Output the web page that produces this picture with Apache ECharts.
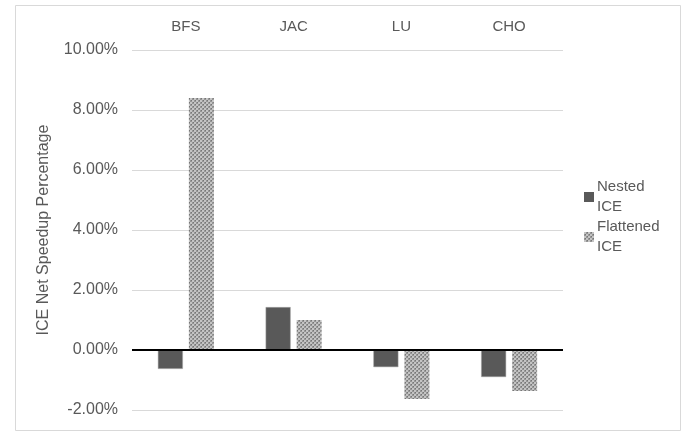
<!DOCTYPE html>
<html><head><meta charset="utf-8">
<script src="https://cdn.jsdelivr.net/npm/echarts@6/dist/echarts.min.js"></script>
<style>html,body{margin:0;padding:0;background:#fff}#c{width:686px;height:433px}</style>
</head><body><div id="c"></div>
<script>
const categories = ['BFS', 'JAC', 'LU', 'CHO'];
const nestedICE = [-0.63, 1.43, -0.57, -0.9];
const flattenedICE = [8.4, 1.0, -1.63, -1.37];
const seriesNames = ['Nested ICE', 'Flattened ICE'];
const yTicks = { min: -2, max: 10, interval: 2 };
const yTitle = 'ICE Net Speedup Percentage';

const pc = document.createElement('canvas');
pc.width = 4; pc.height = 4;
const g = pc.getContext('2d');
g.fillStyle = '#959595'; g.fillRect(0, 0, 4, 4);
g.fillStyle = '#c4c4c4'; g.fillRect(0, 0, 2, 2); g.fillRect(2, 2, 2, 2);
g.fillStyle = '#767676'; g.fillRect(3, 0, 1, 1); g.fillRect(1, 2, 1, 1);

const chart = echarts.init(document.getElementById('c'));
const txt = '#595959';
chart.setOption({
  animation: false,
  backgroundColor: '#fff',
  graphic: [{
    type: 'rect', shape: { x: 15.5, y: 5.5, width: 665, height: 425 },
    style: { fill: 'none', stroke: '#d9d9d9', lineWidth: 1 }, silent: true, z: -1
  }],
  grid: { left: 132, right: 123, top: 50, bottom: 23 },
  legend: {
    orient: 'vertical', left: 579, top: 162,
    itemWidth: 10, itemHeight: 10, itemGap: -20,
    icon: 'rect',
    itemStyle: { borderWidth: 0 },
    data: seriesNames,
    formatter: function (n) { return n.replace(' ', '\n'); },
    textStyle: { color: txt, fontSize: 15, fontFamily: 'Liberation Sans', lineHeight: 20, padding: [20, 0, 0, -2] }
  },
  xAxis: {
    type: 'category', data: categories, position: 'top',
    axisLine: { show: false }, axisTick: { show: false },
    axisLabel: { color: txt, fontSize: 15, fontFamily: 'Liberation Sans', margin: 16 }
  },
  yAxis: {
    type: 'value', min: yTicks.min, max: yTicks.max, interval: yTicks.interval,
    name: yTitle, nameLocation: 'middle', nameGap: 80,
    nameTextStyle: { color: txt, fontSize: 16, fontFamily: 'Liberation Sans' },
    axisLine: { show: false }, axisTick: { show: false },
    axisLabel: { color: txt, fontSize: 16, fontFamily: 'Liberation Sans', margin: 14,
      formatter: function (v) { return v.toFixed(2) + '%'; } },
    splitLine: { lineStyle: { color: '#d9d9d9', width: 1 } }
  },
  series: [
    {
      name: seriesNames[0], type: 'bar', data: nestedICE,
      barWidth: 25, barGap: '24%',
      itemStyle: { color: '#595959', borderColor: '#a6a6a6', borderWidth: 0.5 },
      markLine: {
        silent: true, symbol: 'none', label: { show: false },
        lineStyle: { color: '#000', width: 2, type: 'solid' },
        data: [{ yAxis: 0 }], z: 10
      }
    },
    {
      name: seriesNames[1], type: 'bar', data: flattenedICE,
      barWidth: 25,
      itemStyle: { color: { image: pc, repeat: 'repeat' } }
    }
  ]
});
</script></body></html>
